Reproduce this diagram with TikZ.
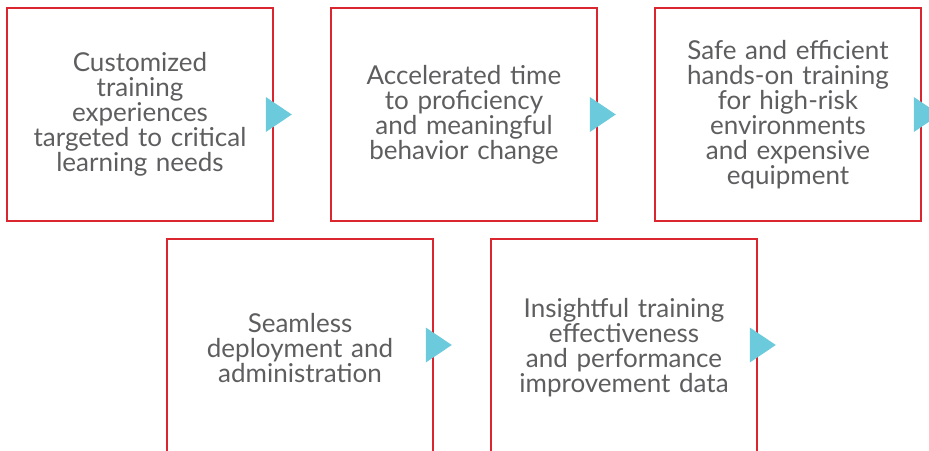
\documentclass[tikz,border=0pt]{standalone}
\usepackage{fontspec}
\setmainfont{Lato}
\usepackage{xcolor}
\usetikzlibrary{calc}

\definecolor{boxred}{HTML}{D9262F}
\definecolor{tricyan}{HTML}{6BCADB}
\definecolor{txtgray}{HTML}{5E5E60}

\begin{document}
\begin{tikzpicture}[x=1pt,y=-1pt,
  benefit/.style={draw=boxred,line width=1.6pt,minimum width=266pt,minimum height=213pt,
    text width=260pt,align=center,text=txtgray,inner sep=0pt,
    font=\fontsize{26}{25}\selectfont},
  lowbenefit/.style={benefit,minimum height=218pt},
  pointer/.style={fill=tricyan,draw=none}]
\useasboundingbox (0,0) rectangle (929,450);
\clip (0,0) rectangle (929,450);
%\draw[fill=white] (0,0) rectangle (929,450);

\node[benefit] (b1) at (140,114.5) {Customized\\training\\experiences\\targeted to critical\\learning needs}; %1
\node[benefit] (b2) at (464,114.5) {Accelerated time\\to proficiency\\and meaningful\\behavior change}; %2
\node[benefit] (b3) at (788,114.5) {Safe and efficient\\hands-on training\\for high-risk\\environments\\and expensive\\equipment}; %3
\node[lowbenefit] (b4) at (300,348) {Seamless\\deployment and\\administration}; %4
\node[lowbenefit] (b5) at (624,348) {Insightful training\\effectiveness\\and performance\\improvement data}; %5

\foreach \b/\dy in {b1/0,b2/0,b3/0,b4/-3,b5/-3}
  \fill[pointer] ($(\b.east)+(-8,\dy-17.5)$) -- ($(\b.east)+(18,\dy)$) -- ($(\b.east)+(-8,\dy+17.5)$) -- cycle;

\end{tikzpicture}
\end{document}
